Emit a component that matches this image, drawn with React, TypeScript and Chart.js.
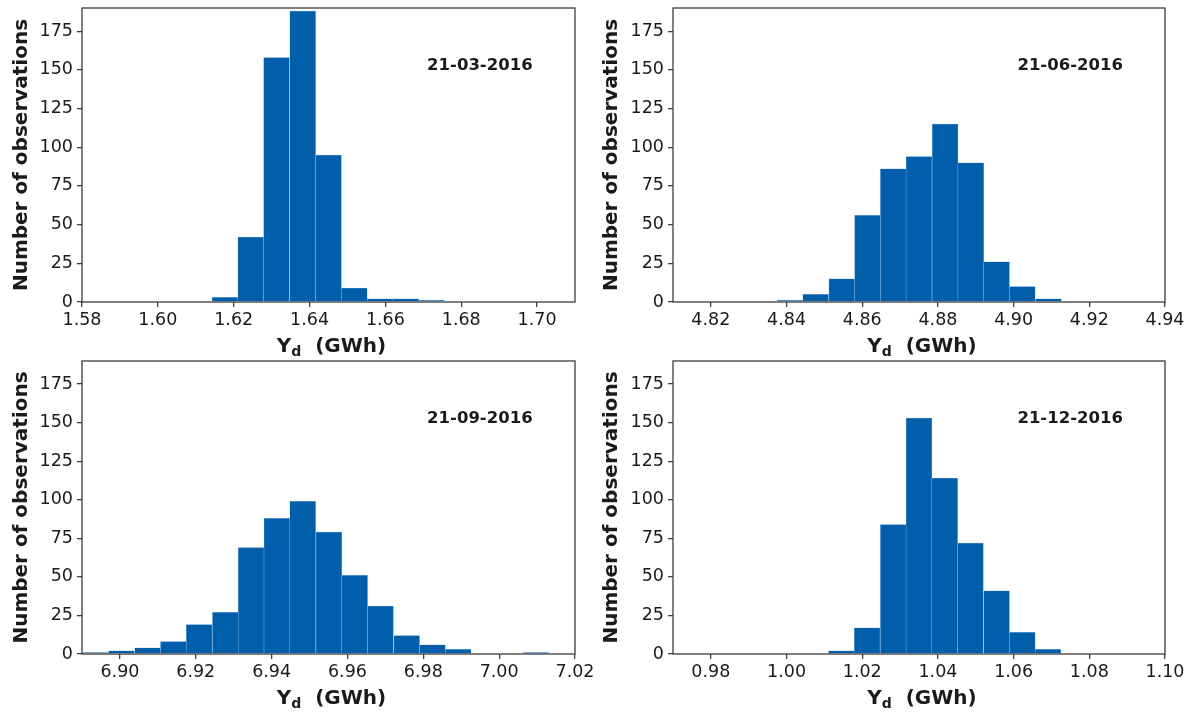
import React, { useEffect, useRef } from 'react';
import { Chart, registerables } from 'chart.js';

Chart.register(...registerables);

// ---------------- data ----------------
const dates = ['21-03-2016', '21-06-2016', '21-09-2016', '21-12-2016'];

// bin centres (GWh) and counts
const binsMar = [1.6177, 1.6245, 1.6313, 1.6382, 1.645, 1.6518, 1.6586, 1.6654, 1.6722];
const countsMar = [3, 42, 158, 188, 95, 9, 2, 2, 1];

const binsJun = [4.8409, 4.8477, 4.8546, 4.8614, 4.8682, 4.875, 4.8819, 4.8887, 4.8955, 4.9023, 4.9092];
const countsJun = [1, 5, 15, 56, 86, 94, 115, 90, 26, 10, 2];

const binsSep = [
  6.8936, 6.9004, 6.9073, 6.9141, 6.9209, 6.9278, 6.9346, 6.9414, 6.9482,
  6.9551, 6.9619, 6.9687, 6.9756, 6.9824, 6.9892, 6.9961, 7.0029, 7.0097,
];
const countsSep = [1, 2, 4, 8, 19, 27, 69, 88, 99, 79, 51, 31, 12, 6, 3, 0, 0, 1];

const binsDec = [1.0145, 1.0213, 1.0282, 1.035, 1.0418, 1.0486, 1.0555, 1.0623, 1.0691];
const countsDec = [2, 17, 84, 153, 114, 72, 41, 14, 3];

// x ranges and tick labels
const xRangeMar = [1.58, 1.71];
const xTicksMar = [1.58, 1.6, 1.62, 1.64, 1.66, 1.68, 1.7];
const xRangeJun = [4.81, 4.94];
const xTicksJun = [4.82, 4.84, 4.86, 4.88, 4.9, 4.92, 4.94];
const xRangeSep = [6.89, 7.02];
const xTicksSep = [6.9, 6.92, 6.94, 6.96, 6.98, 7.0, 7.02];
const xRangeDec = [0.97, 1.1];
const xTicksDec = [0.98, 1.0, 1.02, 1.04, 1.06, 1.08, 1.1];

const yTicks = [0, 25, 50, 75, 100, 125, 150, 175];
const yMax = 190;
const dateLabelValue = 150;

const yTitle = 'Number of observations';
const xTitleMain = 'Y';
const xTitleSub = 'd';
const xTitleUnit = '  (GWh)';

// ---------------- styles / layout ----------------
const FONT = '"DejaVu Sans", "Liberation Sans", sans-serif';
const barColor = '#005eab';
const barEdge = '#8fbbe6';
const spineColor = '#3c3c3c';
const textColor = '#1a1a1a';

type PanelDef = {
  date: string;
  bins: number[];
  counts: number[];
  range: number[];
  ticks: number[];
  canvas: { x: number; y: number; w: number; h: number };
  plot: { l: number; t: number; r: number; b: number };
};

const panels: PanelDef[] = [
  {
    date: dates[0], bins: binsMar, counts: countsMar, range: xRangeMar, ticks: xTicksMar,
    canvas: { x: 0, y: 0, w: 605, h: 356 }, plot: { l: 82, t: 8, r: 575, b: 302 },
  },
  {
    date: dates[1], bins: binsJun, counts: countsJun, range: xRangeJun, ticks: xTicksJun,
    canvas: { x: 590, y: 0, w: 601, h: 356 }, plot: { l: 673, t: 8, r: 1165, b: 302 },
  },
  {
    date: dates[2], bins: binsSep, counts: countsSep, range: xRangeSep, ticks: xTicksSep,
    canvas: { x: 0, y: 356, w: 605, h: 356 }, plot: { l: 82, t: 361, r: 575, b: 654 },
  },
  {
    date: dates[3], bins: binsDec, counts: countsDec, range: xRangeDec, ticks: xTicksDec,
    canvas: { x: 590, y: 356, w: 601, h: 356 }, plot: { l: 673, t: 361, r: 1165, b: 654 },
  },
];

function Panel({ p }: { p: PanelDef }) {
  const ref = useRef<HTMLCanvasElement>(null);

  useEffect(() => {
    if (!ref.current) return;
    const { w: cw, h: ch } = p.canvas;
    const padTop = p.plot.t - p.canvas.y;
    const padRight = p.canvas.x + cw - p.plot.r;
    const yWidth = p.plot.l - p.canvas.x;
    const xHeight = ch - (p.plot.b - p.canvas.y);

    const decor = {
      id: 'decor',
      afterDatasetsDraw(chart: any) {
        const { ctx, chartArea: a, scales } = chart;
        ctx.save();
        // spines
        ctx.strokeStyle = spineColor;
        ctx.lineWidth = 1.3;
        ctx.strokeRect(a.left, a.top, a.right - a.left, a.bottom - a.top);
        // date annotation
        ctx.fillStyle = textColor;
        ctx.font = `bold 16.5px ${FONT}`;
        ctx.textAlign = 'left';
        ctx.textBaseline = 'alphabetic';
        ctx.fillText(p.date, a.left + 0.7 * (a.right - a.left), scales.y.getPixelForValue(dateLabelValue));
        // x-axis title with subscript
        const mainFont = `bold 20px ${FONT}`;
        const subFont = `bold 14px ${FONT}`;
        ctx.font = mainFont;
        const wMain = ctx.measureText(xTitleMain).width;
        const wUnit = ctx.measureText(xTitleUnit).width;
        ctx.font = subFont;
        const wSub = ctx.measureText(xTitleSub).width;
        const total = wMain + wSub + wUnit;
        const cx = (a.left + a.right) / 2 + 3;
        const base = a.bottom + 50;
        let x0 = cx - total / 2;
        ctx.font = mainFont;
        ctx.fillText(xTitleMain, x0, base);
        x0 += wMain;
        ctx.font = subFont;
        ctx.fillText(xTitleSub, x0, base + 3.5);
        x0 += wSub;
        ctx.font = mainFont;
        ctx.fillText(xTitleUnit, x0, base);
        ctx.restore();
      },
    };

    const chart = new Chart(ref.current, {
      type: 'bar',
      data: {
        datasets: [
          {
            data: p.bins.map((b, i) => ({ x: b, y: p.counts[i] })),
            backgroundColor: barColor,
            borderColor: barEdge,
            borderWidth: 0.5,
            borderSkipped: 'start',
            barPercentage: 1,
            categoryPercentage: 1,
          } as any,
        ],
      },
      options: {
        animation: false,
        responsive: false,
        maintainAspectRatio: false,
        devicePixelRatio: 1,
        layout: { padding: { top: padTop, right: padRight, left: 0, bottom: 0 } },
        plugins: {
          legend: { display: false },
          tooltip: { enabled: false },
          title: { display: false },
        },
        scales: {
          x: {
            type: 'linear',
            min: p.range[0],
            max: p.range[1],
            offset: false,
            grid: {
              offset: false,
              drawOnChartArea: false,
              drawTicks: true,
              tickLength: 5,
              color: spineColor,
              lineWidth: 1.3,
            },
            border: { display: false },
            ticks: {
              autoSkip: false,
              maxRotation: 0,
              padding: 3,
              color: textColor,
              font: { family: FONT, size: 17.5 },
              callback: (v: any) => Number(v).toFixed(2),
            },
            afterBuildTicks: (s: any) => {
              s.ticks = p.ticks.map((v) => ({ value: v }));
            },
            afterFit: (s: any) => {
              s.height = xHeight;
              s.paddingLeft = 0;
              s.paddingRight = 0;
            },
          },
          y: {
            type: 'linear',
            min: 0,
            max: yMax,
            grid: {
              drawOnChartArea: false,
              drawTicks: true,
              tickLength: 5,
              color: spineColor,
              lineWidth: 1.3,
            },
            border: { display: false },
            ticks: {
              padding: 4,
              color: textColor,
              font: { family: FONT, size: 17.5 },
            },
            title: {
              display: true,
              text: yTitle,
              color: textColor,
              font: { family: FONT, size: 20, weight: 'bold' },
              padding: { top: 10, bottom: 0 },
            },
            afterBuildTicks: (s: any) => {
              s.ticks = yTicks.map((v) => ({ value: v }));
            },
            afterFit: (s: any) => {
              s.width = yWidth;
              s.paddingTop = 0;
              s.paddingBottom = 0;
            },
          },
        },
      } as any,
      plugins: [decor],
    });
    return () => chart.destroy();
  }, [p]);

  return (
    <canvas
      ref={ref}
      width={p.canvas.w}
      height={p.canvas.h}
      style={{
        position: 'absolute',
        left: p.canvas.x,
        top: p.canvas.y,
        width: p.canvas.w,
        height: p.canvas.h,
      }}
    />
  );
}

export default function App() {
  return (
    <div
      style={{
        position: 'absolute',
        left: 0,
        top: 0,
        width: 1191,
        height: 712,
        background: '#ffffff',
        overflow: 'hidden',
      }}
    >
      {panels.map((p) => (
        <Panel key={p.date} p={p} />
      ))}
    </div>
  );
}
